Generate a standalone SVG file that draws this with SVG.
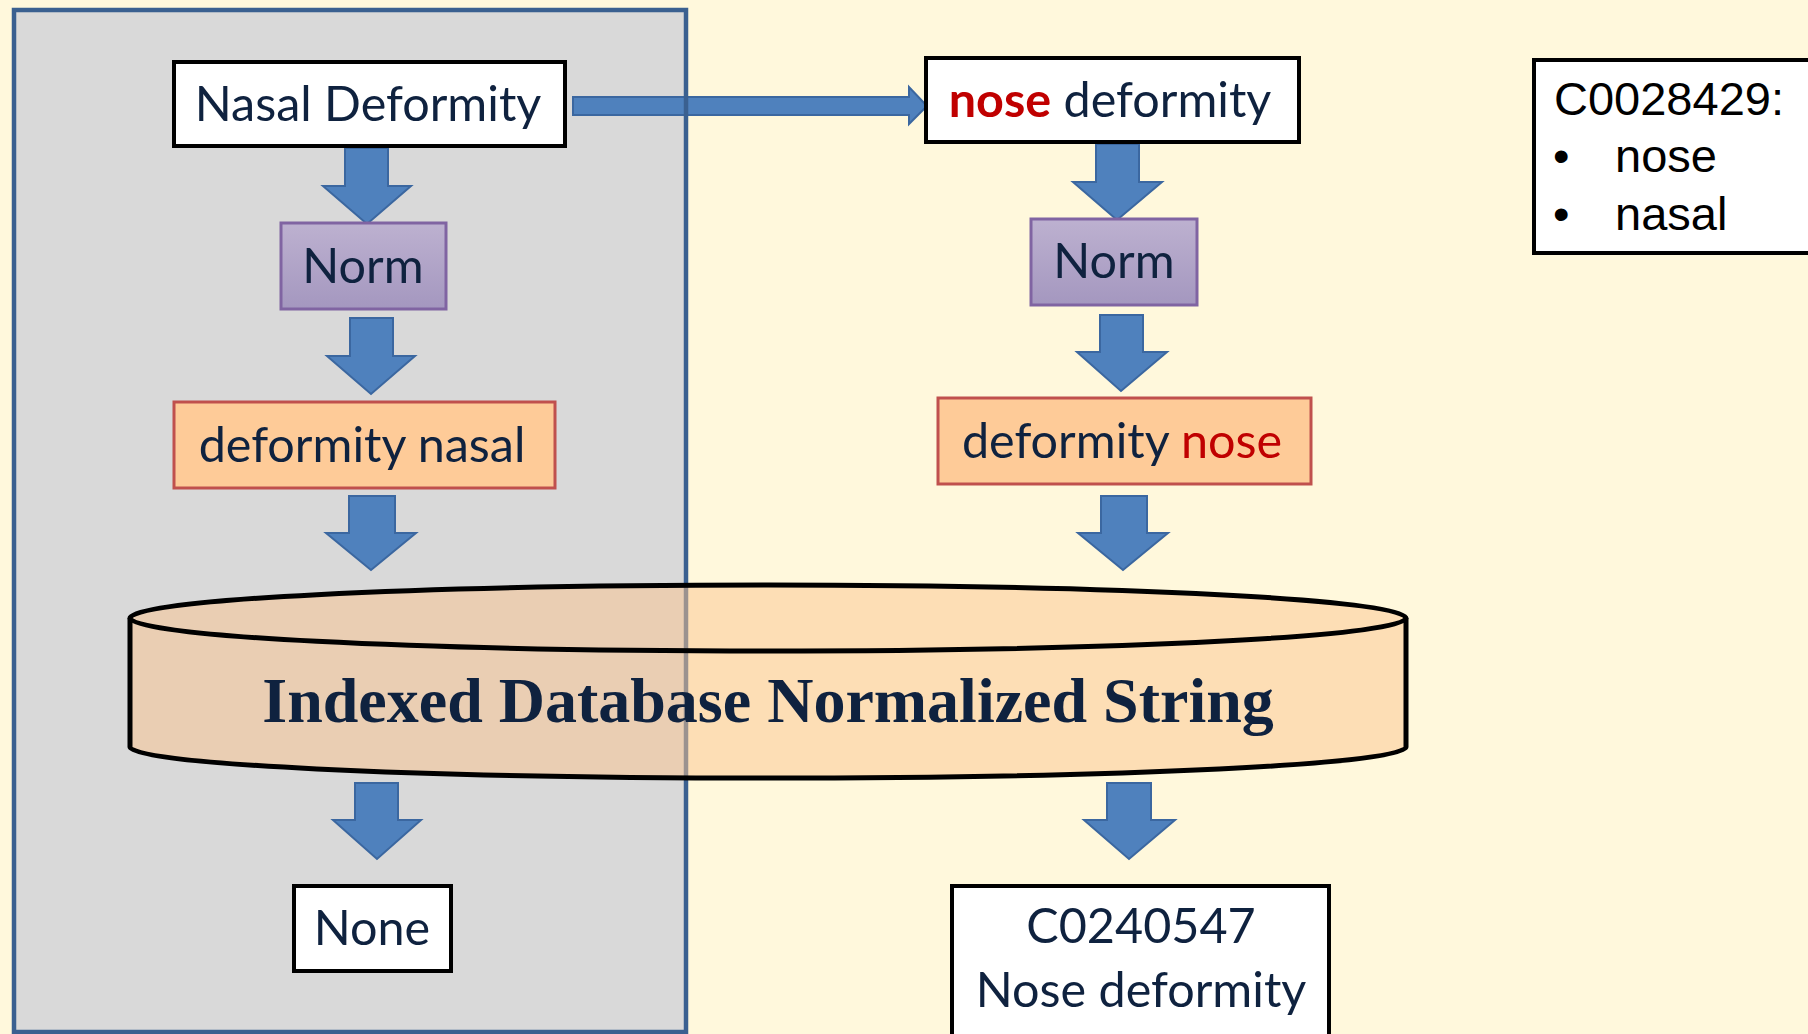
<svg xmlns="http://www.w3.org/2000/svg" width="1808" height="1034" viewBox="0 0 1808 1034">
<defs>
<linearGradient id="normGrad" x1="0" y1="0" x2="0" y2="1">
<stop offset="0" stop-color="#bdb1d0"/>
<stop offset="1" stop-color="#a497bf"/>
</linearGradient>
<style>
.lbl{font-family:Lato,"Open Sans","Liberation Sans",sans-serif;font-size:48.5px;fill:#0f223f;text-anchor:middle}
.red{fill:#c00000}
.white{fill:#ffffff;stroke:#000000;stroke-width:4}
.norm{fill:url(#normGrad);stroke:#8064a2;stroke-width:3}
.orange{fill:#fecb98;stroke:#c0504d;stroke-width:3}
.arrow{fill:#4f81bd;stroke:#3b67a0;stroke-width:2}
.legend{font-family:"Liberation Sans",Arial,sans-serif;font-size:47px;fill:#000000}
</style>
</defs>
<rect x="0" y="0" width="1808" height="1034" fill="#fff8dc"/>
<g id="panel">
<rect x="14" y="10" width="672" height="1022" fill="#d9d9d9"/>
</g>
<g id="connectors">
<path class="arrow" d="M345,148 H388 V186 H411 L367,224 L323,186 H345 Z"/>
<path class="arrow" d="M350,318 H393 V356 H415 L371,394 L327,356 H350 Z"/>
<path class="arrow" d="M349,496 H395 V533 H416 L371,570 L326,533 H349 Z"/>
<path class="arrow" d="M355,783 H398 V820 H421 L377,859 L333,820 H355 Z"/>
<path class="arrow" d="M1096,144 H1139 V182 H1162 L1117,220 L1073,182 H1096 Z"/>
<path class="arrow" d="M1100,315 H1143 V352 H1167 L1121,391 L1077,352 H1100 Z"/>
<path class="arrow" d="M1101,496 H1147 V533 H1168 L1123,570 L1078,533 H1101 Z"/>
<path class="arrow" d="M1107,783 H1151 V820 H1175 L1129,859 L1084,820 H1107 Z"/>
<path class="arrow" d="M573,97 H909 V87 L927,106 L909,124 V115 H573 Z"/>
</g>
<g id="panel-border">
<rect x="14" y="10" width="672" height="1022" fill="none" stroke="#3a6090" stroke-width="4.5"/>
</g>
<g id="node-nasal-deformity">
<rect class="white" x="174" y="62" width="391" height="84"/>
<text class="lbl" x="368" y="121">Nasal Deformity</text>
</g>
<g id="node-norm-left">
<rect class="norm" x="281" y="223" width="165" height="86"/>
<text class="lbl" x="363" y="283">Norm</text>
</g>
<g id="node-deformity-nasal">
<rect class="orange" x="174" y="402" width="381" height="86"/>
<text class="lbl" x="362" y="462">deformity nasal</text>
</g>
<g id="node-none">
<rect class="white" x="294" y="886" width="157" height="85"/>
<text class="lbl" x="372" y="945">None</text>
</g>
<g id="node-nose-deformity">
<rect class="white" x="926" y="58" width="373" height="84"/>
<text class="lbl" x="1110" y="117"><tspan class="red" font-weight="bold">nose</tspan> deformity</text>
</g>
<g id="node-norm-right">
<rect class="norm" x="1031" y="219" width="166" height="86"/>
<text class="lbl" x="1114" y="278">Norm</text>
</g>
<g id="node-deformity-nose">
<rect class="orange" x="938" y="398" width="373" height="86"/>
<text class="lbl" x="1122" y="458">deformity <tspan class="red">nose</tspan></text>
</g>
<g id="node-result">
<rect class="white" x="952" y="886" width="377" height="160"/>
<text class="lbl" x="1141" y="943">C0240547</text>
<text class="lbl" x="1141" y="1007">Nose deformity</text>
</g>
<g id="node-legend">
<rect class="white" x="1534" y="60" width="290" height="193"/>
<text class="legend" x="1554" y="115">C0028429:</text>
<text class="legend" x="1553" y="172">•</text>
<text class="legend" x="1615" y="172">nose</text>
<text class="legend" x="1553" y="230">•</text>
<text class="legend" x="1615" y="230">nasal</text>
</g>
<g id="node-database">
<path d="M130,618 V747 A638,31 0 0 0 1406,747 V618 A638,33 0 0 0 130,618 Z" fill="#fcc48e" fill-opacity="0.5" stroke="none"/>
<path d="M130,618 V747 A638,31 0 0 0 1406,747 V618" fill="none" stroke="#000" stroke-width="5"/>
<ellipse cx="768" cy="618" rx="638" ry="33" fill="none" stroke="#000" stroke-width="5"/>
<text x="768" y="722" font-family="'Liberation Serif','Times New Roman',serif" font-weight="bold" font-size="64" fill="#0f223f" text-anchor="middle">Indexed Database Normalized String</text>
</g>
</svg>
